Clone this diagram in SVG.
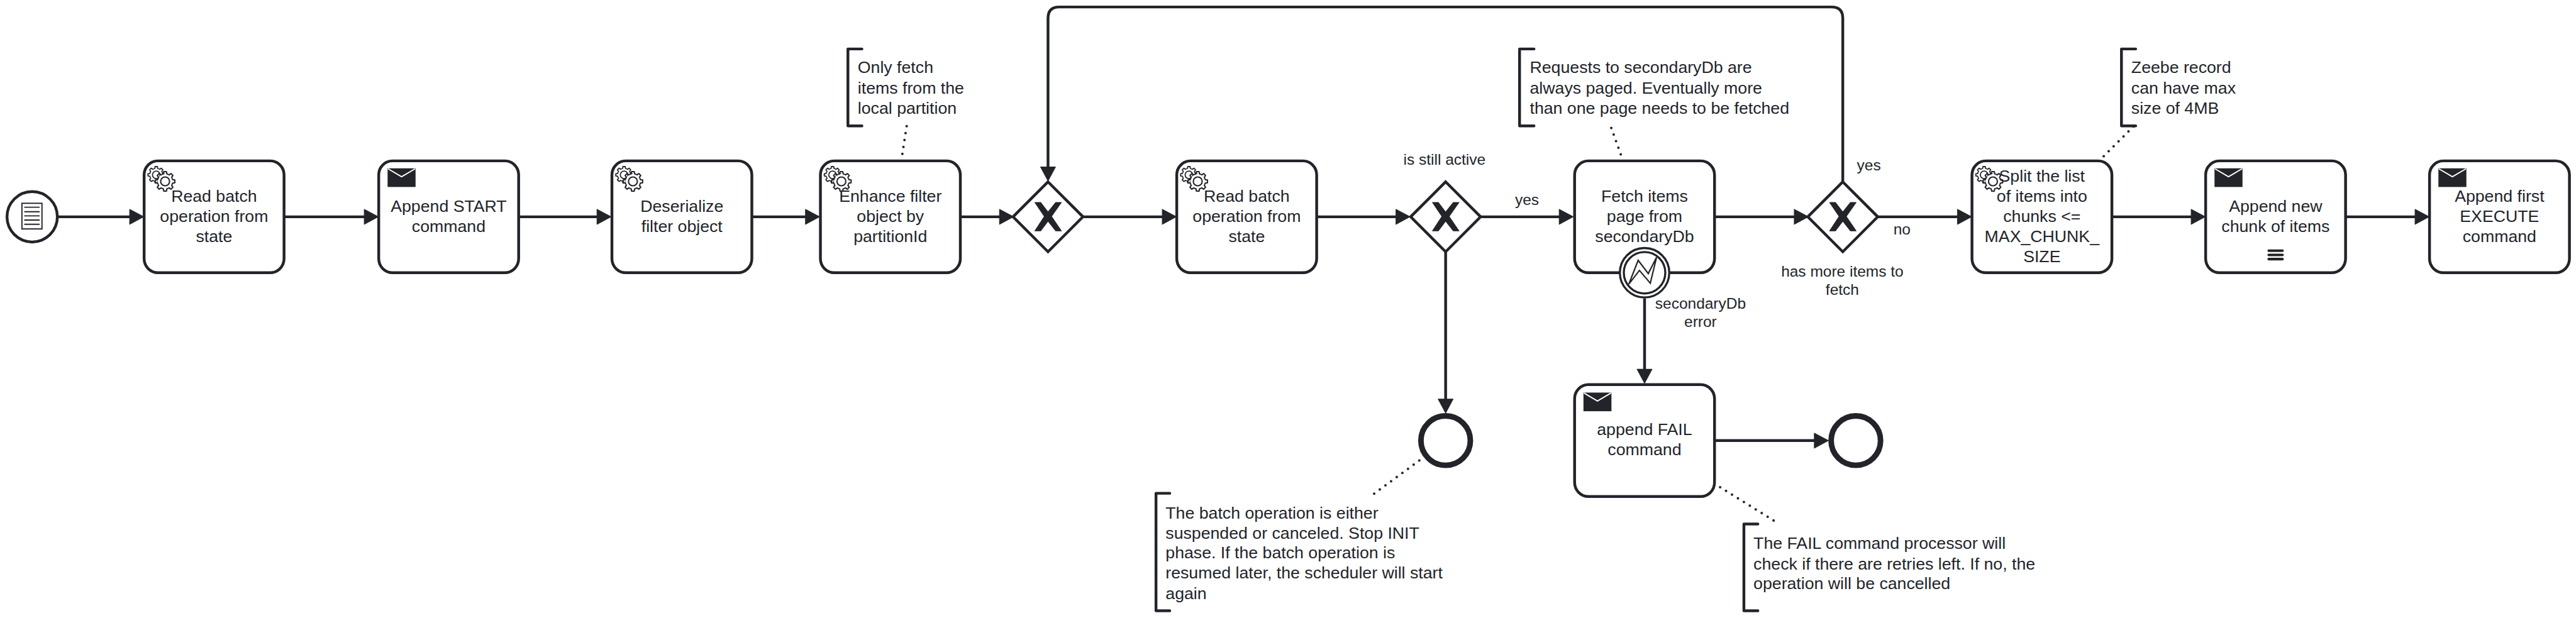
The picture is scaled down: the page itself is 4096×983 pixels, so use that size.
<svg xmlns="http://www.w3.org/2000/svg" xmlns:xlink="http://www.w3.org/1999/xlink" width="4096" height="983" viewBox="0 0 4096 983">
<style>
text{font-family:"Liberation Sans",Arial,sans-serif;fill:#22242a}
.t{font-size:36px;text-anchor:middle}
.a{font-size:36px}
.l{font-size:33px;text-anchor:middle}
.box{fill:#fff;stroke:#22242a;stroke-width:6}
.gw{fill:#fff;stroke:#22242a;stroke-width:6;stroke-linejoin:miter}
.x{fill:#22242a;stroke:#22242a;stroke-width:1.5;stroke-linejoin:round}
.flow{fill:none;stroke:#22242a;stroke-width:6;marker-end:url(#arrow)}
.assoc{fill:none;stroke:#22242a;stroke-width:5.5;stroke-linecap:round;stroke-dasharray:0 15}
.br{fill:none;stroke:#22242a;stroke-width:6;stroke-linecap:round;stroke-linejoin:round}
.ic{fill:none;stroke:#22242a;stroke-width:2.6}
</style>
<defs>
<marker id="arrow" markerUnits="userSpaceOnUse" markerWidth="34" markerHeight="36" viewBox="-2 -2 34 36" refX="10" refY="16" orient="auto">
<path d="M0 0L30 16L0 32Z" fill="#22242a" stroke="#22242a" stroke-width="1.5" stroke-linejoin="round"/>
</marker>
<path id="tooth" d="M-6.31 -15.24L-3.71 -16.08L-2.92 -20.8L2.92 -20.8L3.71 -16.08L6.31 -15.24" fill="none" stroke="#22242a" stroke-width="2.8" stroke-linejoin="round"/>
<g id="gear">
<circle r="16" fill="#fff"/>
<use href="#tooth"/><use href="#tooth" transform="rotate(45)"/><use href="#tooth" transform="rotate(90)"/><use href="#tooth" transform="rotate(135)"/><use href="#tooth" transform="rotate(180)"/><use href="#tooth" transform="rotate(225)"/><use href="#tooth" transform="rotate(270)"/><use href="#tooth" transform="rotate(315)"/>
<circle r="9.5" fill="#fff" stroke="#22242a" stroke-width="2.8"/>
</g>
<g id="gears">
<use href="#gear" transform="translate(26 30) scale(.85)"/>
<use href="#gear" transform="translate(45 44)"/>
</g>
<g id="mail">
<rect width="60" height="40" fill="#22242a"/>
<path d="M1 1L30 18L59 1" fill="none" stroke="#fff" stroke-width="2.6"/>
</g>
<rect id="taskbox" class="box" width="300" height="240" rx="30" ry="30"/>
<g id="xgw">
<path class="gw" d="M0 -75L75 0L0 75L-75 0Z"/>
<path class="x" d="M-28.2 -30.8L-15.7 -30.8L0 -10.2L16.4 -30.8L28.6 -30.8L7.5 -.8L28.6 30.2L16.4 30.2L0 9.2L-15.7 30.2L-28.2 30.2L-7.9 -.8Z"/>
</g>
</defs>
<rect width="4096" height="983" fill="#fff"/>
<g transform="scale(.74162)">

<g id="start">
<circle class="box" cx="69" cy="465" r="54"/>
<rect class="ic" x="47" y="436" width="43" height="55"/>
<path class="ic" d="M52 444.5H85M52 454H85M52 463H85M52 472H85M52 481H85"/>
</g>

<g id="task-read-1" transform="translate(309 345)">
<use href="#taskbox"/><use href="#gears"/>
<text class="t"><tspan x="150" y="88">Read batch</tspan><tspan x="150" y="131">operation from</tspan><tspan x="150" y="174">state</tspan></text>
</g>
<g id="task-start" transform="translate(812 345)">
<use href="#taskbox"/><use href="#mail" transform="translate(19 16)"/>
<text class="t"><tspan x="150" y="109">Append START</tspan><tspan x="150" y="152">command</tspan></text>
</g>
<g id="task-deserialize" transform="translate(1312 345)">
<use href="#taskbox"/><use href="#gears"/>
<text class="t"><tspan x="150" y="109">Deserialize</tspan><tspan x="150" y="152">filter object</tspan></text>
</g>
<g id="task-enhance" transform="translate(1759 345)">
<use href="#taskbox"/><use href="#gears"/>
<text class="t"><tspan x="150" y="88">Enhance filter</tspan><tspan x="150" y="131">object by</tspan><tspan x="150" y="174">partitionId</tspan></text>
</g>
<g id="gateway-merge" transform="translate(2247 465)"><use href="#xgw"/></g>
<g id="task-read-2" transform="translate(2523 345)">
<use href="#taskbox"/><use href="#gears"/>
<text class="t"><tspan x="150" y="88">Read batch</tspan><tspan x="150" y="131">operation from</tspan><tspan x="150" y="174">state</tspan></text>
</g>
<g id="gateway-active" transform="translate(3099.5 465)"><use href="#xgw"/></g>
<g id="task-fetch" transform="translate(3376 345)">
<use href="#taskbox"/>
<text class="t"><tspan x="150" y="88">Fetch items</tspan><tspan x="150" y="131">page from</tspan><tspan x="150" y="174">secondaryDb</tspan></text>
</g>
<g id="boundary-error">
<circle cx="3526" cy="585" r="53" fill="#fff" stroke="#22242a" stroke-width="4.5"/>
<circle cx="3526" cy="585" r="44.5" fill="#fff" stroke="#22242a" stroke-width="4.5"/>
<path d="M3492.3 609.3L3512.3 558.3L3534 586.7L3551.7 551.7L3538.3 607.3L3515 580Z" fill="none" stroke="#22242a" stroke-width="3"/>
</g>
<g id="gateway-more" transform="translate(3951 465)"><use href="#xgw"/></g>
<g id="task-split" transform="translate(4228 345)">
<use href="#taskbox"/><use href="#gears"/>
<text class="t"><tspan x="150" y="45">Split the list</tspan><tspan x="150" y="88">of items into</tspan><tspan x="150" y="131">chunks &lt;=</tspan><tspan x="150" y="174">MAX_CHUNK_</tspan><tspan x="150" y="217">SIZE</tspan></text>
</g>
<g id="task-chunk" transform="translate(4729 345)">
<use href="#taskbox"/><use href="#mail" transform="translate(19 16)"/>
<text class="t"><tspan x="150" y="109">Append new</tspan><tspan x="150" y="152">chunk of items</tspan></text>
<rect x="132.500" y="190" width="35" height="5.500" rx="2.700" fill="#22242a"/>
<rect x="132.500" y="199" width="35" height="5.500" rx="2.700" fill="#22242a"/>
<rect x="132.500" y="208" width="35" height="5.500" rx="2.700" fill="#22242a"/>
</g>
<g id="task-execute" transform="translate(5209 345)">
<use href="#taskbox"/><use href="#mail" transform="translate(19 16)"/>
<text class="t"><tspan x="150" y="88">Append first</tspan><tspan x="150" y="131">EXECUTE</tspan><tspan x="150" y="174">command</tspan></text>
</g>
<g id="task-fail" transform="translate(3376 825)">
<use href="#taskbox"/><use href="#mail" transform="translate(19 17)"/>
<text class="t"><tspan x="150" y="108">append FAIL</tspan><tspan x="150" y="151">command</tspan></text>
</g>
<g id="end-cancel"><circle cx="3099.500" cy="945" r="53" fill="#fff" stroke="#22242a" stroke-width="12"/></g>
<g id="end-fail"><circle cx="3979" cy="945" r="53" fill="#fff" stroke="#22242a" stroke-width="12"/></g>

<g id="note-partition">
<path class="br" d="M1848 105H1818V270H1848"/>
<text class="a"><tspan x="1839" y="157">Only fetch</tspan><tspan x="1839" y="201">items from the</tspan><tspan x="1839" y="244">local partition</tspan></text>
</g>
<g id="note-paged">
<path class="br" d="M3289 105H3258V270H3289"/>
<text class="a"><tspan x="3280" y="157">Requests to secondaryDb are</tspan><tspan x="3280" y="201">always paged. Eventually more</tspan><tspan x="3280" y="244">than one page needs to be fetched</tspan></text>
</g>
<g id="note-size">
<path class="br" d="M4579 105H4548.500V270H4579"/>
<text class="a"><tspan x="4569.500" y="157">Zeebe record</tspan><tspan x="4569.500" y="201">can have max</tspan><tspan x="4569.500" y="244">size of 4MB</tspan></text>
</g>
<g id="note-cancel">
<path class="br" d="M2508 1058H2478.500V1310H2508"/>
<text class="a"><tspan x="2499" y="1112">The batch operation is either</tspan><tspan x="2499" y="1155">suspended or canceled. Stop INIT</tspan><tspan x="2499" y="1198">phase. If the batch operation is</tspan><tspan x="2499" y="1241">resumed later, the scheduler will start</tspan><tspan x="2499" y="1285">again</tspan></text>
</g>
<g id="note-fail">
<path class="br" d="M3769 1124H3739V1310H3769"/>
<text class="a"><tspan x="3759.500" y="1177">The FAIL command processor will</tspan><tspan x="3759.500" y="1221">check if there are retries left. If no, the</tspan><tspan x="3759.500" y="1264">operation will be cancelled</tspan></text>
</g>

<g id="connectors">
<path class="flow" d="M123 465H288"/>
<path class="flow" d="M609 465H791"/>
<path class="flow" d="M1112 465H1290"/>
<path class="flow" d="M1612 465H1737"/>
<path class="flow" d="M2059 465H2153"/>
<path class="flow" d="M2322 465H2502"/>
<path class="flow" d="M2823 465H3003"/>
<path class="flow" d="M3174.500 465H3353"/>
<path class="flow" d="M3676 465H3857"/>
<path class="flow" d="M4026 465H4207"/>
<path class="flow" d="M4528 465H4708"/>
<path class="flow" d="M5029 465H5188"/>
<path class="flow" d="M3951 390V39Q3951 15 3927 15H2271Q2247 15 2247 39V368"/>
<path class="flow" d="M3099.500 540V866"/>
<path class="flow" d="M3526 640V802"/>
<path class="flow" d="M3676 945H3900"/>
<path class="assoc" d="M1934.700 330L1944 270"/>
<path class="assoc" d="M3475 331L3454.500 274"/>
<path class="assoc" d="M4510.500 335L4575 270.500"/>
<path class="assoc" d="M3043 987.700L2946 1059"/>
<path class="assoc" d="M3688 1045L3815 1124"/>
</g>

<g id="labels">
<text class="l" x="3097" y="353">is still active</text>
<text class="l" x="3274" y="439">yes</text>
<text class="l" x="4007" y="365">yes</text>
<text class="l" x="4078" y="503">no</text>
<text class="l"><tspan x="3950" y="593">has more items to</tspan><tspan x="3950" y="632">fetch</tspan></text>
<text class="l"><tspan x="3646" y="662">secondaryDb</tspan><tspan x="3646" y="701">error</tspan></text>
</g>
</g>
</svg>
